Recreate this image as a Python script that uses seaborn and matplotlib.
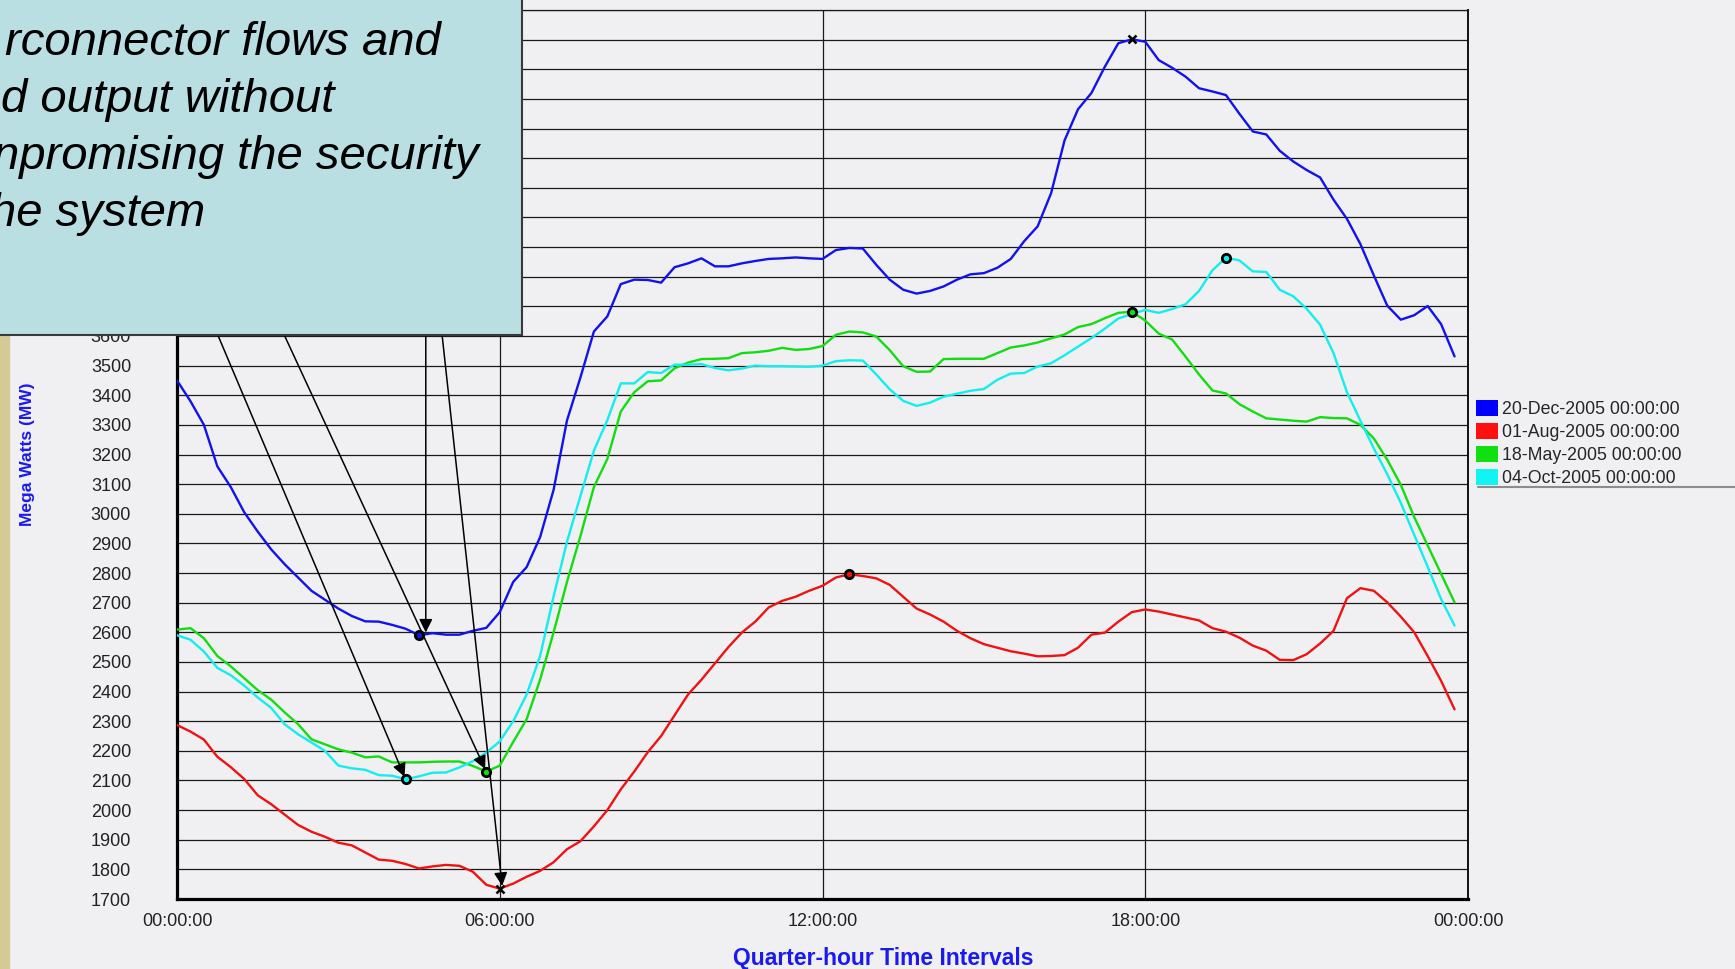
import pandas as pd
import seaborn as sns
import matplotlib.pyplot as plt
from matplotlib.patches import Patch, Rectangle
from matplotlib.lines import Line2D

# --- data: MW per quarter-hour interval (0 = 00:00, 95 = 23:45) ---
days = ["20-Dec-2005 00:00:00", "01-Aug-2005 00:00:00",
        "18-May-2005 00:00:00", "04-Oct-2005 00:00:00"]
line_colors = ["#1212ea", "#ee1212", "#12dd12", "#12eeee"]
swatch_colors = ["#0000ff", "#ff1010", "#10e010", "#10f4f4"]
tick_labels = ["00:00:00", "06:00:00", "12:00:00", "18:00:00", "00:00:00"]

dec_20 = [3450, 3380, 3300, 3160, 3090, 3005, 2940, 2880, 2830, 2785, 2740, 2710,
          2680, 2655, 2637, 2636, 2625, 2612, 2590, 2597, 2592, 2592, 2605, 2615,
          2668, 2770, 2820, 2921, 3080, 3315, 3460, 3615, 3666, 3775, 3790, 3789,
          3780, 3832, 3845, 3862, 3835, 3835, 3845, 3853, 3860, 3862, 3865, 3862,
          3860, 3890, 3897, 3895, 3840, 3790, 3756, 3743, 3752, 3767, 3790, 3808,
          3812, 3830, 3860, 3920, 3970, 4082, 4260, 4365, 4420, 4509, 4588, 4601,
          4593, 4531, 4505, 4475, 4436, 4425, 4413, 4350, 4290, 4280, 4225, 4189,
          4160, 4135, 4060, 3995, 3910, 3804, 3702, 3655, 3670, 3701, 3640, 3531]

aug_01 = [2287, 2265, 2238, 2180, 2145, 2105, 2050, 2020, 1985, 1950, 1927, 1910,
          1890, 1881, 1857, 1833, 1829, 1818, 1803, 1810, 1815, 1812, 1792, 1748,
          1735, 1752, 1775, 1795, 1824, 1868, 1895, 1945, 2000, 2070, 2130, 2195,
          2250, 2320, 2390, 2440, 2495, 2550, 2599, 2636, 2684, 2706, 2720, 2740,
          2757, 2785, 2796, 2790, 2782, 2760, 2720, 2680, 2660, 2636, 2605, 2580,
          2560, 2548, 2536, 2528, 2519, 2520, 2523, 2548, 2592, 2599, 2636, 2668,
          2677, 2670, 2660, 2650, 2640, 2614, 2602, 2582, 2555, 2538, 2507, 2506,
          2526, 2562, 2605, 2715, 2749, 2740, 2701, 2653, 2600, 2520, 2436, 2340]

may_18 = [2609, 2614, 2580, 2520, 2485, 2445, 2405, 2373, 2330, 2290, 2239, 2222,
          2205, 2194, 2178, 2181, 2161, 2161, 2161, 2163, 2164, 2164, 2149, 2130,
          2150, 2230, 2307, 2440, 2599, 2770, 2925, 3090, 3185, 3345, 3410, 3447,
          3450, 3491, 3510, 3522, 3523, 3525, 3542, 3545, 3550, 3560, 3553, 3556,
          3566, 3604, 3615, 3612, 3598, 3552, 3498, 3479, 3480, 3522, 3523, 3523,
          3523, 3542, 3561, 3568, 3578, 3592, 3605, 3630, 3640, 3660, 3678, 3682,
          3652, 3608, 3588, 3530, 3470, 3416, 3406, 3370, 3345, 3322, 3318, 3314,
          3311, 3326, 3323, 3322, 3300, 3254, 3182, 3098, 2989, 2893, 2797, 2701]

oct_04 = [2590, 2575, 2535, 2480, 2455, 2420, 2380, 2345, 2290, 2256, 2228, 2200,
          2150, 2141, 2136, 2118, 2116, 2104, 2114, 2126, 2127, 2144, 2165, 2194,
          2232, 2300, 2390, 2520, 2720, 2906, 3060, 3213, 3316, 3440, 3440, 3478,
          3475, 3503, 3503, 3505, 3492, 3484, 3490, 3500, 3498, 3498, 3497, 3496,
          3500, 3515, 3518, 3517, 3470, 3420, 3381, 3364, 3375, 3395, 3405, 3415,
          3421, 3452, 3473, 3475, 3497, 3508, 3535, 3564, 3593, 3625, 3659, 3674,
          3688, 3678, 3691, 3707, 3752, 3822, 3864, 3855, 3818, 3816, 3756, 3734,
          3692, 3638, 3542, 3410, 3314, 3220, 3133, 3037, 2929, 2821, 2712, 2623]

series = [dec_20, aug_01, may_18, oct_04]

callout_lines = ["rconnector flows and", "d output without",
                 "npromising the security", "he system"]

# arrow tails sit under the callout box; heads go to the daily minima
# (tail position, sideways nudge of the head)
arrow_tails = {"04-Oct-2005 00:00:00": ((2.6, 3650), 0.0),
               "18-May-2005 00:00:00": ((7.5, 3650), 0.0),
               "20-Dec-2005 00:00:00": ((18.5, 3650), 0.5),
               "01-Aug-2005 00:00:00": ((19.6, 3650), 0.2)}

# long-form table for seaborn
frames = []
for day, vals in zip(days, series):
    frames.append(pd.DataFrame({"interval": range(len(vals)), "MW": vals, "day": day}))
df = pd.concat(frames, ignore_index=True)

sns.set_theme(style="white")
plt.rcParams["font.family"] = ["Liberation Sans", "DejaVu Sans"]

bg = "#f0eff2"
W, H = 1735, 969
fig = plt.figure(figsize=(W / 100, H / 100), dpi=100, facecolor=bg)
ax = fig.add_axes([177 / W, 1 - 899 / H, (1468 - 177) / W, (899 - 10) / H])
ax.set_facecolor("none")

sns.lineplot(data=df, x="interval", y="MW", hue="day", hue_order=days,
             palette=line_colors, linewidth=1.7, legend=False, ax=ax, zorder=3)

# min / max markers (overall extremes get an x)
top = max(max(s) for s in series)
bottom = min(min(s) for s in series)
for vals, col in zip(series, line_colors):
    for v in (min(vals), max(vals)):
        i = vals.index(v)
        if v in (top, bottom):
            ax.plot(i, v, marker="x", color="black", ms=6, mew=1.8, zorder=5)
        else:
            ax.plot(i, v, marker="o", mfc=col, mec="black", ms=6, mew=2, zorder=5)

# arrows from the callout down to the minima
for day, vals in zip(days, series):
    i = vals.index(min(vals))
    tail, dx = arrow_tails[day]
    ax.annotate("", xy=(i + dx, min(vals)), xytext=tail,
                arrowprops=dict(arrowstyle="-|>", color="black", lw=1.1,
                                mutation_scale=20, shrinkA=0, shrinkB=2),
                zorder=6)

ax.set_xlim(0, 96)
ax.set_ylim(1700, 4700)
ax.set_xticks([0, 24, 48, 72, 96])
ax.set_xticklabels(tick_labels)
yticks = list(range(1700, 4701, 100))
ax.set_yticks(yticks)
# labels above 3600 sit behind the callout box on the slide
ax.set_yticklabels([str(t) if t <= 3600 else "" for t in yticks])
ax.grid(True, color="#1a1a1a", linewidth=0.9)
ax.tick_params(axis="y", length=0, pad=33, labelsize=13, labelcolor="#222222")
ax.tick_params(axis="x", length=0, pad=10, labelsize=13, labelcolor="#222222")
for side in ["left", "bottom"]:
    ax.spines[side].set_linewidth(2.3)
    ax.spines[side].set_color("black")
ax.spines["right"].set_linewidth(1.4)
ax.spines["right"].set_color("#111111")
ax.spines["top"].set_linewidth(0.9)
ax.spines["top"].set_color("#1a1a1a")

ax.set_xlabel("Quarter-hour Time Intervals", color="#1a1aee", fontsize=16.5,
              fontweight="bold")
ax.xaxis.set_label_coords((883 - 177) / 1291, (899 - 947) / 889)
ax.set_ylabel("Mega Watts (MW)", color="#1a1aee", fontsize=12.5, fontweight="bold",
              va="center")
ax.yaxis.set_label_coords((28 - 177) / 1291, (899 - 454) / 889)

# legend to the right of the plot
handles = [Patch(facecolor=c, edgecolor="none") for c in swatch_colors]
fig.legend(handles, days, loc="upper left", bbox_to_anchor=(1476 / W, 1 - 400 / H),
           frameon=False, fontsize=12.8, handlelength=1.25, handleheight=1.0,
           handletextpad=0.2, labelspacing=0.28, borderpad=0, borderaxespad=0)
fig.add_artist(Line2D([1478 / W, 1], [1 - 487 / H] * 2, transform=fig.transFigure,
                      color="#8c8c8c", lw=1.5))

# slide decoration: tan strip on the left edge
fig.add_artist(Rectangle((0, 0), 9 / W, (H - 335) / H, transform=fig.transFigure,
                         color="#d3ca95", zorder=0))

# callout box over the top-left corner
box = fig.add_axes([0, 1 - 335 / H, 522 / W, 335 / H])
box.set_facecolor("#b9dfe2")
box.set_xticks([])
box.set_yticks([])
for side in ["left", "top"]:
    box.spines[side].set_visible(False)
for side in ["right", "bottom"]:
    box.spines[side].set_color("#3a3a3a")
    box.spines[side].set_linewidth(1.5)
right_ends = [441, 334, 479, 205]
baselines = [55, 112, 169, 226]
for txt, xr, yb in zip(callout_lines, right_ends, baselines):
    box.text(xr / 522, 1 - yb / 335, txt, ha="right", va="baseline",
             fontsize=34, style="italic", color="black", transform=box.transAxes)

fig.savefig("out.png", dpi=100, facecolor=bg)
